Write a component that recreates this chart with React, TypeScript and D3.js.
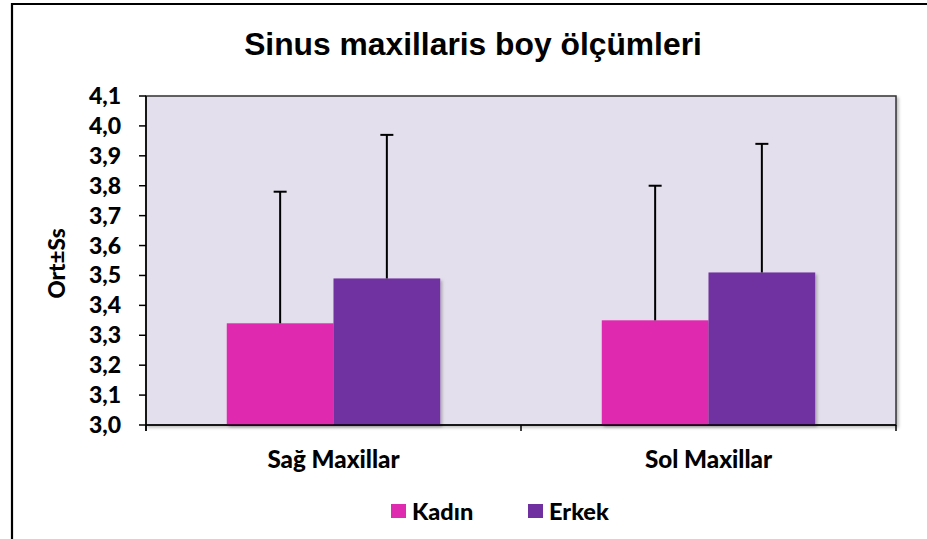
import React from "react";
import * as d3 from "d3";

const categories = ["Sağ Maxillar", "Sol Maxillar"];
const seriesNames = ["Kadın", "Erkek"];
const meanKadin = [3.34, 3.35];
const meanErkek = [3.49, 3.51];
const upperKadin = [3.78, 3.8];
const upperErkek = [3.97, 3.94];
const yTicks = [3.0, 3.1, 3.2, 3.3, 3.4, 3.5, 3.6, 3.7, 3.8, 3.9, 4.0, 4.1];
const colors = ["#DF2BAF", "#7030A0"];

const W = 927;
const H = 539;
const plot = { left: 146, right: 896, top: 96, bottom: 425 };

export default function App() {
  const y = d3.scaleLinear().domain([3.0, 4.1]).range([plot.bottom, plot.top]);
  const x0 = d3.scaleBand<string>().domain(categories).range([plot.left, plot.right]).paddingInner(0).paddingOuter(0);
  const x1 = d3.scaleBand<string>().domain(seriesNames).range([0, x0.bandwidth()]).paddingOuter(0.757).paddingInner(0);
  const means = [meanKadin, meanErkek];
  const uppers = [upperKadin, upperErkek];
  const fmt = (v: number) => v.toFixed(1).replace(".", ",");
  const labelFont = "Lato, 'Open Sans', sans-serif";
  const xBoundaries = [plot.left, ...categories.map((c) => (x0(c) as number) + x0.bandwidth())];

  return (
    <svg width={W} height={H} style={{ position: "absolute", left: 0, top: 0 }} xmlns="http://www.w3.org/2000/svg">
      <defs>
        <filter id="shadow" x="-10%" y="-10%" width="130%" height="130%">
          <feDropShadow dx="2" dy="2" stdDeviation="1.5" floodColor="#000" floodOpacity="0.25" />
        </filter>
      </defs>
      <rect x={0} y={0} width={W} height={H} fill="#fff" />
      {/* outer border */}
      <line x1={12} y1={4} x2={W} y2={4} stroke="#000" strokeWidth={2.2} />
      <line x1={12} y1={3} x2={12} y2={H} stroke="#000" strokeWidth={2.2} />

      {/* title */}
      <text x={473} y={55} textAnchor="middle" fontFamily="'Liberation Sans', Arial, sans-serif" fontWeight="bold" fontSize={31.8} fill="#000">
        Sinus maxillaris boy ölçümleri
      </text>

      {/* plot area */}
      <rect x={plot.left} y={plot.top} width={plot.right - plot.left} height={plot.bottom - plot.top} fill="#E4DFEC" stroke="#333" strokeWidth={1.5} filter="url(#shadow)" />

      {/* bars */}
      {categories.map((c, ci) =>
        seriesNames.map((s, si) => {
          const bx = (x0(c) as number) + (x1(s) as number);
          const bw = x1.bandwidth();
          const top = y(means[si][ci]);
          const cx = bx + bw / 2;
          const ue = y(uppers[si][ci]);
          return (
            <g key={c + s}>
              <rect x={bx} y={top} width={bw} height={plot.bottom - top} fill={colors[si]} filter="url(#shadow)" />
              <line x1={cx} y1={top} x2={cx} y2={ue} stroke="#000" strokeWidth={2} />
              <line x1={cx - 6.5} y1={ue} x2={cx + 6.5} y2={ue} stroke="#000" strokeWidth={2} />
            </g>
          );
        })
      )}

      {/* axes */}
      <line x1={plot.left} y1={plot.top} x2={plot.left} y2={plot.bottom + 6} stroke="#000" strokeWidth={1.5} />
      <line x1={plot.left} y1={plot.bottom} x2={plot.right} y2={plot.bottom} stroke="#000" strokeWidth={1.5} />
      {yTicks.map((t) => (
        <g key={t}>
          <line x1={plot.left - 7} y1={y(t)} x2={plot.left} y2={y(t)} stroke="#000" strokeWidth={1.5} />
          <text x={121} y={y(t) + 8} textAnchor="end" fontFamily={labelFont} fontWeight="900" fontSize={23} fill="#000">
            {fmt(t)}
          </text>
        </g>
      ))}
      {xBoundaries.map((bx, i) => (
        <line key={i} x1={bx} y1={plot.bottom} x2={bx} y2={plot.bottom + 6} stroke="#000" strokeWidth={1.5} />
      ))}
      {categories.map((c) => (
        <text key={c} x={(x0(c) as number) + x0.bandwidth() / 2} y={468} textAnchor="middle" fontFamily={labelFont} fontWeight="900" fontSize={24.2} fill="#000">
          {c}
        </text>
      ))}

      {/* y axis title */}
      <text transform={`translate(65,${(plot.top + plot.bottom) / 2 + 3}) rotate(-90)`} textAnchor="middle" fontFamily={labelFont} fontWeight="900" fontSize={22.5} fill="#000">
        Ort±Ss
      </text>

      {/* legend */}
      {seriesNames.map((s, i) => {
        const lx = [391, 528][i];
        return (
          <g key={s}>
            <rect x={lx} y={504} width={15} height={14} fill={colors[i]} />
            <text x={lx + 21} y={519.5} fontFamily={labelFont} fontWeight="900" fontSize={23.5} fill="#000">
              {s}
            </text>
          </g>
        );
      })}
    </svg>
  );
}
